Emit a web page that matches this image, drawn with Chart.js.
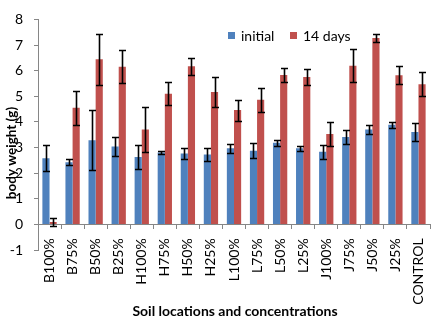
<!DOCTYPE html>
<html>
<head>
<meta charset="utf-8">
<script src="https://cdn.jsdelivr.net/npm/chart.js@4/dist/chart.umd.min.js"></script>
<style>
html,body{margin:0;padding:0;background:#fff;}
#wrap{width:447px;height:321px;position:relative;}
</style>
</head>
<body>
<div id="wrap"><canvas id="c" width="447" height="321"></canvas></div>
<script>
const categories = ['B100%','B75%','B50%','B25%','H100%','H75%','H50%','H25%','L100%','L75%','L50%','L25%','J100%','J75%','J50%','J25%','CONTROL'];
const initial    = [2.58,2.42,3.28,3.04,2.63,2.81,2.77,2.73,2.97,2.87,3.19,2.97,2.83,3.41,3.70,3.89,3.61];
const initialErr = [0.50,0.12,1.17,0.37,0.46,0.07,0.20,0.26,0.17,0.29,0.12,0.10,0.26,0.27,0.18,0.12,0.35];
const days14     = [0.09,4.55,6.44,6.15,3.70,5.10,6.17,5.17,4.46,4.86,5.83,5.75,3.53,6.19,7.27,5.82,5.47];
const days14Err  = [0.15,0.67,1.00,0.65,0.87,0.44,0.33,0.57,0.41,0.47,0.27,0.30,0.48,0.65,0.16,0.36,0.46];
const yTicks = [-1,0,1,2,3,4,5,6,7,8];
const seriesNames = ['initial','14 days'];
const xTitle = 'Soil locations and concentrations';
const yTitle = 'body weight (g)';

const FONT = 'Lato, "Open Sans", sans-serif';
const BLUE = '#4F81BD', RED = '#C0504D', AXIS = '#868686';
const errs = [initialErr, days14Err];

const extras = {
  id: 'extras',
  afterDatasetsDraw(chart) {
    const ctx = chart.ctx, y = chart.scales.y;
    ctx.save();
    ctx.strokeStyle = '#000';
    ctx.lineWidth = 1.6;
    chart.data.datasets.forEach((ds, di) => {
      const meta = chart.getDatasetMeta(di);
      meta.data.forEach((el, i) => {
        const v = ds.data[i], e = errs[di][i];
        const t = Math.round(y.getPixelForValue(v + e)) + 0.5;
        const b = Math.round(y.getPixelForValue(v - e)) + 0.5;
        const x = Math.round(el.x) + 0.5;
        ctx.beginPath();
        ctx.moveTo(x, t); ctx.lineTo(x, b);
        ctx.moveTo(x - 3.5, t); ctx.lineTo(x + 3.5, t);
        ctx.moveTo(x - 3.5, b); ctx.lineTo(x + 3.5, b);
        ctx.stroke();
      });
    });
    ctx.restore();
  },
  afterDraw(chart) {
    const ctx = chart.ctx;
    ctx.save();
    // legend
    ctx.font = '14px ' + FONT;
    ctx.textBaseline = 'middle';
    ctx.textAlign = 'left';
    const items = [{c: BLUE, x: 228}, {c: RED, x: 290}];
    items.forEach((it, i) => {
      ctx.fillStyle = it.c;
      ctx.fillRect(it.x, 32, 7, 7);
      ctx.fillStyle = '#000';
      ctx.fillText(seriesNames[i], it.x + 13, 36);
    });
    // titles
    ctx.font = 'bold 14px ' + FONT;
    ctx.textAlign = 'center';
    ctx.fillText(xTitle, 235, 311);
    ctx.font = 'bold 13.5px ' + FONT;
    ctx.translate(12, 153);
    ctx.rotate(-Math.PI / 2);
    ctx.fillText(yTitle, 0, 0);
    ctx.restore();
  }
};

new Chart(document.getElementById('c'), {
  type: 'bar',
  data: {
    labels: categories,
    datasets: [
      {label: seriesNames[0], data: initial, backgroundColor: BLUE, categoryPercentage: 0.62, barPercentage: 1.0},
      {label: seriesNames[1], data: days14, backgroundColor: RED, categoryPercentage: 0.62, barPercentage: 1.0}
    ]
  },
  options: {
    responsive: false,
    animation: false,
    layout: {padding: {top: 14, right: 17, left: 0, bottom: 71}},
    plugins: {legend: {display: false}, tooltip: {enabled: false}},
    scales: {
      x: {
        position: {y: 0},
        grid: {display: true, drawOnChartArea: false, drawTicks: true, tickLength: 4, color: AXIS, offset: true},
        border: {display: true, color: AXIS, width: 1},
        ticks: {color: '#000', font: {family: FONT, size: 14}, minRotation: 90, maxRotation: 90, autoSkip: false, padding: 10}
      },
      y: {
        min: -1, max: 8,
        afterFit(s) { s.width = 38; },
        afterBuildTicks(s) { s.ticks = yTicks.map(v => ({value: v})); },
        grid: {display: true, drawOnChartArea: false, drawTicks: true, tickLength: 4, color: AXIS},
        border: {display: true, color: AXIS, width: 1},
        ticks: {color: '#000', font: {family: FONT, size: 14}, padding: 11}
      }
    }
  },
  plugins: [extras]
});
</script>
</body>
</html>
